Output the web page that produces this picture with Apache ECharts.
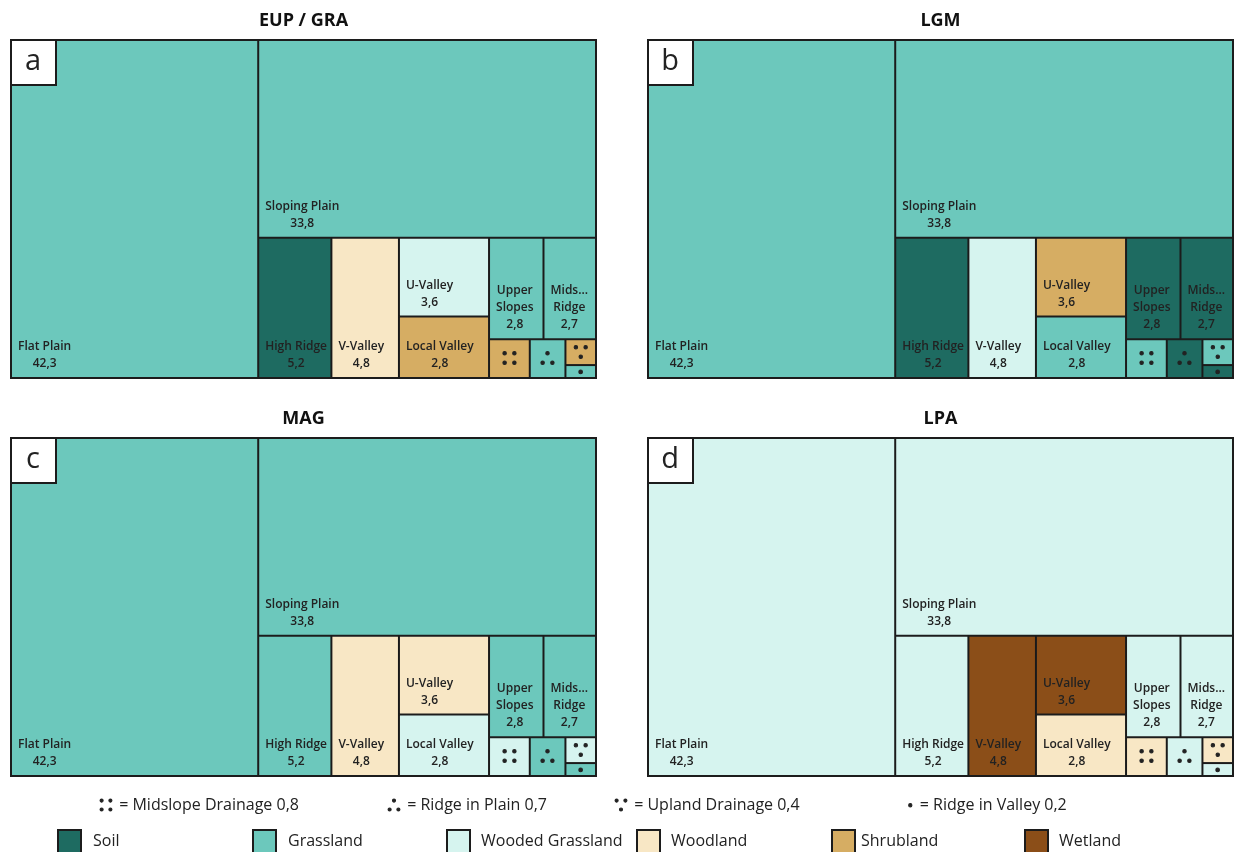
<!DOCTYPE html>
<html>
<head>
<meta charset="utf-8">
<script src="https://cdn.jsdelivr.net/npm/echarts@6/dist/echarts.min.js"></script>
<style>
html,body{margin:0;padding:0;background:#fff;}
#c{width:1234px;height:852px;}
</style>
</head>
<body>
<div id="c"></div>
<script>
// ---------------- data ----------------
const landforms = ['Flat Plain','Sloping Plain','High Ridge','V-Valley','U-Valley','Local Valley',
  'Upper Slopes','Midslope Ridge','Midslope Drainage','Ridge in Plain','Upland Drainage','Ridge in Valley'];
const shares = [42.3, 33.8, 5.2, 4.8, 3.6, 2.8, 2.8, 2.7, 0.8, 0.7, 0.4, 0.2];
const cellLabels = ['Flat Plain','Sloping Plain','High Ridge','V-Valley','U-Valley','Local Valley',
  'Upper\nSlopes','Mids...\nRidge','∷','∴','∵','·'];
const symbolIdx = [8, 9, 10, 11];
// nesting of landforms (indices) as drawn
const groupTree = [0, 1, [2, 3, [4, 5], [6, 7, 8, 9, [10, 11]]]];

const panelTitles = ['EUP / GRA', 'LGM', 'MAG', 'LPA'];
const panelLetters = ['a', 'b', 'c', 'd'];
const coverA = ['Grassland','Grassland','Soil','Woodland','Wooded Grassland','Shrubland',
  'Grassland','Grassland','Shrubland','Grassland','Shrubland','Grassland'];
const coverB = ['Grassland','Grassland','Soil','Wooded Grassland','Shrubland','Grassland',
  'Soil','Soil','Grassland','Soil','Grassland','Soil'];
const coverC = ['Grassland','Grassland','Grassland','Woodland','Woodland','Wooded Grassland',
  'Grassland','Grassland','Wooded Grassland','Grassland','Wooded Grassland','Grassland'];
const coverD = ['Wooded Grassland','Wooded Grassland','Wooded Grassland','Wetland','Wetland','Woodland',
  'Wooded Grassland','Wooded Grassland','Woodland','Wooded Grassland','Woodland','Wooded Grassland'];
const panelCovers = [coverA, coverB, coverC, coverD];

const coverTypes = ['Soil','Grassland','Wooded Grassland','Woodland','Shrubland','Wetland'];
const coverColors = ['#1e6b61','#6cc8bc','#d6f4ef','#f8e7c5','#d6ad63','#8b4e18'];

// ---------------- layout ----------------
const BORDER = '#1c1c1c';
const TEXT = '#222';
const PANEL_W = 587, PANEL_H = 340;
const panelPos = [[10, 39], [647, 39], [10, 437], [647, 437]];
const legend1X = [97, 385, 612, 905], legend1Y = 805;
const legend2BoxX = [58, 253, 447, 637, 832, 1025], legend2TextX = [93, 288, 481, 671, 861, 1059];
const legend2BoxY = 830, legend2Y = 841;

const LABEL_FAMILY = '"Open Sans", "DejaVu Sans", sans-serif';
const SYMBOL_FAMILY = '"Noto Sans CJK JP", "DejaVu Sans"';
const fmt = v => v.toFixed(1).replace('.', ',');
const mctx = document.createElement('canvas').getContext('2d');
mctx.font = '600 12px ' + LABEL_FAMILY;

function leaf(i, covers) {
  const color = coverColors[coverTypes.indexOf(covers[i])];
  const item = { name: landforms[i], value: shares[i], itemStyle: { color: color } };
  if (symbolIdx.indexOf(i) >= 0) {
    item.label = {
      position: 'inside', align: 'center', verticalAlign: 'middle', offset: [0, 0],
      formatter: cellLabels[i], fontFamily: SYMBOL_FAMILY, fontWeight: 'bold',
      fontSize: 20, lineHeight: 10, textBorderColor: TEXT, textBorderWidth: 1
    };
  } else {
    const lines = cellLabels[i].split('\n').concat([fmt(shares[i])]);
    const w = Math.max.apply(null, lines.map(s => mctx.measureText(s).width));
    item.label = { formatter: lines.join('\n'), offset: [6 + w / 2, -5] };
  }
  return item;
}
function build(node, covers) {
  if (Array.isArray(node)) {
    return { name: '', children: node.map(n => build(n, covers)), itemStyle: { borderWidth: 0, gapWidth: 0 } };
  }
  return leaf(node, covers);
}

const series = panelPos.map((p, k) => ({
  type: 'treemap',
  left: p[0], top: p[1], width: PANEL_W, height: PANEL_H,
  squareRatio: 1, sort: false, roam: false, nodeClick: false,
  breadcrumb: { show: false },
  animation: false,
  itemStyle: { borderColor: BORDER, borderWidth: 1, gapWidth: 0 },
  upperLabel: { show: false },
  label: {
    show: true, position: 'insideBottomLeft', align: 'center', padding: 0, distance: 0,
    color: TEXT, fontFamily: LABEL_FAMILY, fontWeight: 600, fontSize: 12, lineHeight: 17,
    overflow: 'truncate'
  },
  emphasis: { disabled: true },
  levels: [{ itemStyle: { borderColor: BORDER, borderWidth: 1, gapWidth: 0 } }],
  data: groupTree.map(n => build(n, panelCovers[k]))
}));

const graphics = [];
panelPos.forEach((p, k) => {
  graphics.push({
    type: 'text', z: 100, x: p[0] + PANEL_W / 2, y: p[1] - 18,
    style: { text: panelTitles[k], font: 'bold 18px "Open Sans"', fill: '#111', align: 'center', verticalAlign: 'middle' }
  });
  graphics.push({
    type: 'rect', z: 100, x: p[0] + 1, y: p[1] + 1,
    shape: { x: 0, y: 0, width: 45, height: 45 },
    style: { fill: '#fff', stroke: BORDER, lineWidth: 2 }
  });
  graphics.push({
    type: 'text', z: 101, x: p[0] + 23, y: p[1] + 23,
    style: { text: panelLetters[k], font: '29px "Open Sans"', fill: TEXT, align: 'center', verticalAlign: 'middle' }
  });
});
symbolIdx.forEach((i, j) => {
  graphics.push({
    type: 'text', z: 100, x: legend1X[j], y: legend1Y,
    style: {
      text: '{s|' + cellLabels[i] + '} = ' + landforms[i] + ' ' + fmt(shares[i]),
      fontSize: 16, fontFamily: '"Open Sans"', fill: TEXT, verticalAlign: 'middle',
      rich: { s: { fontSize: 18, fontWeight: 'bold', fontFamily: SYMBOL_FAMILY, fill: TEXT,
        stroke: TEXT, lineWidth: 1 } }
    }
  });
});
coverTypes.forEach((t, j) => {
  graphics.push({
    type: 'rect', z: 100, x: legend2BoxX[j], y: legend2BoxY,
    shape: { x: 0, y: 0, width: 23, height: 23 },
    style: { fill: coverColors[j], stroke: BORDER, lineWidth: 2 }
  });
  graphics.push({
    type: 'text', z: 100, x: legend2TextX[j], y: legend2Y,
    style: { text: t, font: '16px "Open Sans"', fill: TEXT, verticalAlign: 'middle' }
  });
});

const chart = echarts.init(document.getElementById('c'), null, { renderer: 'canvas' });
chart.setOption({
  animation: false,
  backgroundColor: '#fff',
  series: series,
  graphic: { elements: graphics }
});
</script>
</body>
</html>
